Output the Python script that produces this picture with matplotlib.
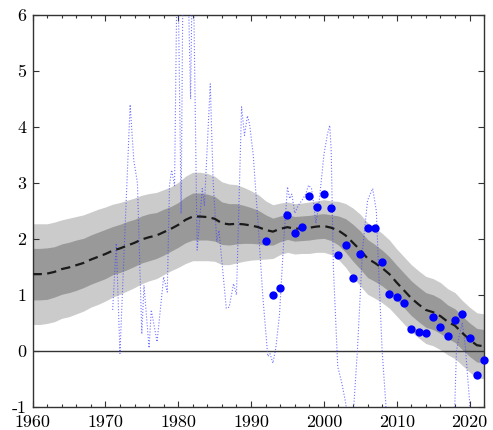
import numpy as np
import matplotlib
matplotlib.use("Agg")
import matplotlib.pyplot as plt
from matplotlib.ticker import MultipleLocator

plt.rcParams['font.family'] = 'serif'
plt.rcParams['font.serif'] = ['cmr10', 'DejaVu Serif']
plt.rcParams['axes.unicode_minus'] = False

# yearly estimate: median and half widths of the two bands
years = np.arange(1960, 2023)
median = [1.37, 1.37, 1.38, 1.41, 1.46, 1.49, 1.53, 1.57, 1.63, 1.68,
          1.73, 1.79, 1.83, 1.88, 1.93, 1.99, 2.03, 2.06, 2.12, 2.18,
          2.25, 2.34, 2.40, 2.40, 2.39, 2.36, 2.28, 2.26, 2.27, 2.26,
          2.24, 2.21, 2.16, 2.13, 2.18, 2.21, 2.18, 2.19, 2.20, 2.22,
          2.23, 2.20, 2.15, 2.06, 1.93, 1.80, 1.65, 1.57, 1.48, 1.37,
          1.22, 1.08, 0.94, 0.83, 0.73, 0.69, 0.62, 0.52, 0.45, 0.32,
          0.20, 0.10, 0.08]
inner_hw = [0.46, 0.46, 0.46, 0.45, 0.45, 0.45, 0.45, 0.44, 0.44, 0.44,
            0.44, 0.43, 0.43, 0.43, 0.42, 0.42, 0.42, 0.41, 0.41, 0.40,
            0.40, 0.41, 0.42, 0.42, 0.41, 0.40, 0.38, 0.37, 0.36, 0.34,
            0.32, 0.30, 0.27, 0.24, 0.23, 0.22, 0.22, 0.22, 0.22, 0.22,
            0.22, 0.23, 0.26, 0.30, 0.33, 0.34, 0.34, 0.33, 0.32, 0.31,
            0.31, 0.31, 0.31, 0.31, 0.31, 0.31, 0.31, 0.30, 0.30, 0.30,
            0.30, 0.30, 0.30]
outer_hw = [0.90, 0.90, 0.89, 0.89, 0.88, 0.88, 0.87, 0.86, 0.85, 0.85,
            0.84, 0.83, 0.82, 0.81, 0.80, 0.79, 0.78, 0.77, 0.76, 0.75,
            0.76, 0.78, 0.79, 0.79, 0.78, 0.76, 0.74, 0.72, 0.70, 0.66,
            0.62, 0.58, 0.52, 0.48, 0.46, 0.45, 0.45, 0.45, 0.46, 0.46,
            0.47, 0.48, 0.52, 0.57, 0.62, 0.64, 0.64, 0.63, 0.62, 0.61,
            0.60, 0.60, 0.60, 0.60, 0.60, 0.60, 0.60, 0.59, 0.59, 0.58,
            0.58, 0.58, 0.58]

# annual observations (dots)
obs_years = np.arange(1992, 2023)
obs = [1.97, 0.99, 1.13, 2.42, 2.11, 2.21, 2.77, 2.57, 2.81, 2.55,
       1.72, 1.89, 1.30, 1.73, 2.20, 2.20, 1.59, 1.01, 0.96, 0.85,
       0.39, 0.33, 0.31, 0.61, 0.43, 0.27, 0.55, 0.66, 0.23, -0.44, -0.17]

# volatile sub-annual series (dotted)
q_t = [1971.0, 1971.5, 1972.0, 1973.4, 1973.9, 1974.4, 1975.0, 1975.3, 1976.0, 1976.3,
       1977.1, 1978.0, 1978.5, 1978.8, 1979.1, 1979.5, 1979.9, 1980.4, 1980.7, 1981.3,
       1981.7, 1982.0, 1982.6, 1983.3, 1983.6, 1984.4, 1984.8, 1985.3, 1985.6, 1986.6,
       1987.0, 1987.6, 1988.0, 1988.7, 1989.1, 1989.5, 1989.8, 1990.3, 1991.0, 1991.6,
       1992.3, 1992.6, 1993.0, 1993.4, 1993.9, 1994.5, 1995.0, 1995.3, 1995.6, 1996.0,
       1996.5, 1997.0, 1997.5, 1997.9, 1998.3, 1998.6, 1998.9, 1999.3, 2000.0, 2000.5,
       2000.8, 2001.0, 2001.3, 2001.9, 2002.5, 2003.0, 2003.6, 2004.1, 2004.6, 2005.3,
       2006.0, 2006.7, 2007.2, 2007.5, 2008.0, 2008.5, 2009.0, 2017.5, 2018.2, 2018.6,
       2019.0, 2019.4, 2020.0, 2020.5]
q_v = [0.73, 1.92, -0.05, 4.40, 3.40, 3.00, 0.30, 1.17, 0.05, 0.73,
       0.16, 1.32, 1.05, 2.96, 3.23, 2.95, 7.50, 2.45, 7.50, 7.00,
       4.50, 7.50, 1.80, 2.90, 2.60, 4.77, 3.00, 1.95, 2.15, 0.76,
       0.78, 1.20, 1.00, 4.36, 3.85, 4.20, 4.05, 3.50, 2.20, 1.00,
       -0.10, -0.05, -0.22, 0.05, 0.64, 2.00, 2.93, 2.72, 2.80, 2.46,
       2.60, 2.69, 2.80, 2.96, 2.90, 2.63, 2.28, 2.60, 3.50, 3.88,
       4.03, 3.60, 1.50, -0.28, -0.60, -0.94, -1.50, -1.00, 0.00, 1.80,
       2.69, 2.90, 2.50, 1.50, 0.00, -0.95, -3.00, -3.00, 0.00, 0.28,
       0.50, 0.10, -0.90, -2.50]

med = np.array(median)
ihw = np.array(inner_hw)
ohw = np.array(outer_hw)

fig, ax = plt.subplots(figsize=(4.93, 4.30), dpi=100)
fig.subplots_adjust(left=0.066, right=0.982, top=0.965, bottom=0.054)

ax.fill_between(years, med - ohw, med + ohw, color='#cbcbcb', lw=0, zorder=1)
ax.fill_between(years, med - ihw, med + ihw, color='#999999', lw=0, zorder=2)
ax.axhline(0, color='#333333', lw=1.0, zorder=3)
ax.plot(q_t, q_v, color='#4646ff', ls=':', lw=0.8, alpha=0.75, zorder=4)
ax.plot(years, med, color='#1a1a1a', lw=1.6, dashes=(4.2, 2.4), zorder=5)
ax.plot(obs_years, obs, 'o', color='#0000ff', ms=6, mec='none', zorder=6, clip_on=False)

ax.set_xlim(1960, 2022)
ax.set_ylim(-1, 6)
ax.xaxis.set_major_locator(MultipleLocator(10))
ax.xaxis.set_minor_locator(MultipleLocator(2))
ax.yaxis.set_major_locator(MultipleLocator(1))
ax.tick_params(which='both', direction='in', top=True, right=True,
               labelsize=13, color='#333333')
ax.tick_params(axis='x', pad=5.5)
ax.tick_params(axis='y', pad=4.5)
ax.tick_params(which='major', length=4, width=0.8)
ax.tick_params(which='minor', length=2.5, width=0.8)
for s in ax.spines.values():
    s.set_color('#333333')
    s.set_linewidth(1.0)

fig.savefig('out.png', dpi=100)
